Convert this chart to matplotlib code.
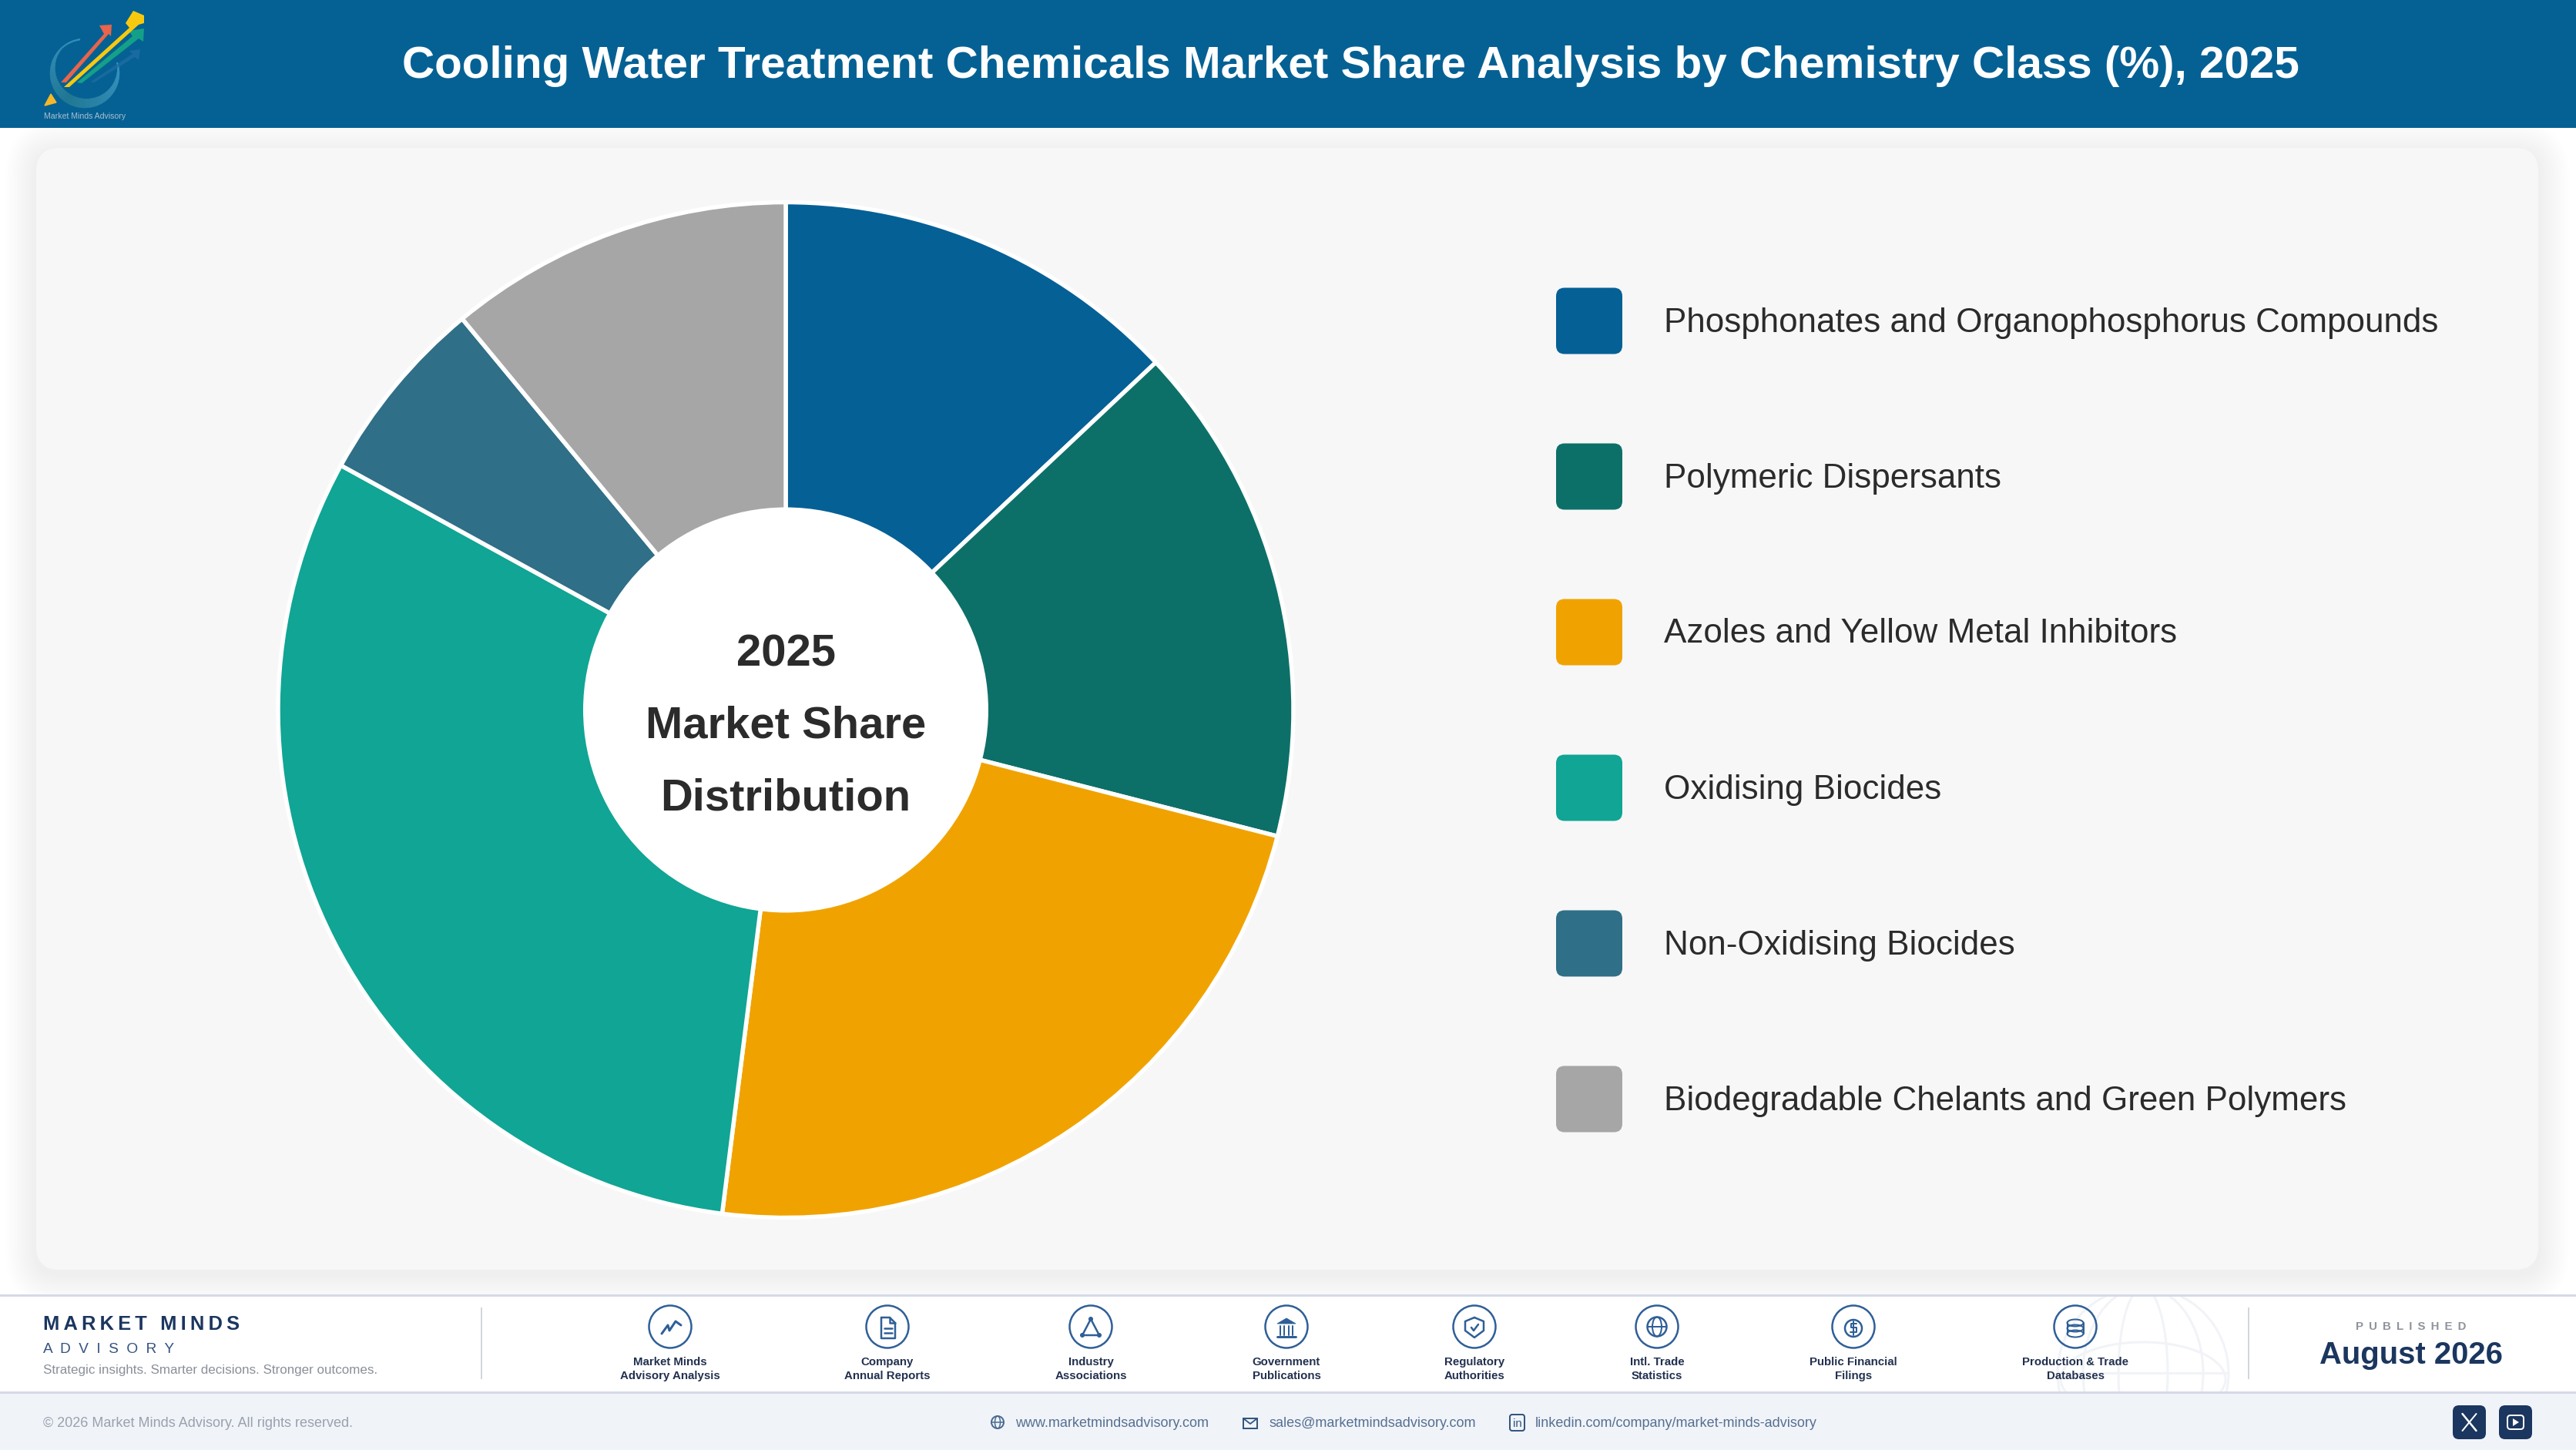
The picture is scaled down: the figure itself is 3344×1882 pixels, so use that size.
import numpy as np
import matplotlib
matplotlib.use('Agg')
import matplotlib.pyplot as plt
from matplotlib.patches import Rectangle, FancyBboxPatch, Circle, Ellipse, Polygon

plt.rcParams['font.family'] = ['Liberation Sans', 'DejaVu Sans']

W, H, DPI = 3344, 1882, 200

TITLE = 'Cooling Water Treatment Chemicals Market Share Analysis by Chemistry Class (%), 2025'
CATEGORIES = ['Phosphonates and Organophosphorus Compounds', 'Polymeric Dispersants',
              'Azoles and Yellow Metal Inhibitors', 'Oxidising Biocides',
              'Non-Oxidising Biocides', 'Biodegradable Chelants and Green Polymers']
SHARES = [13, 16, 23, 31, 6, 11]
COLORS = ['#056096', '#0d7068', '#f0a300', '#10a594', '#2f6f87', '#a6a6a6']
CENTER_LINES = ['2025', 'Market Share', 'Distribution']
SOURCES = ['Market Minds\nAdvisory Analysis', 'Company\nAnnual Reports', 'Industry\nAssociations',
           'Government\nPublications', 'Regulatory\nAuthorities', 'Intl. Trade\nStatistics',
           'Public Financial\nFilings', 'Production & Trade\nDatabases']
SOURCE_X = [870, 1152, 1416, 1670, 1914, 2151, 2406, 2694]

HEADER = '#056194'
NAVY = '#1b365f'
ICON = '#2f5f97'
RULE = '#d6d9e6'


def px(size):
    return size * 72 / DPI


fig = plt.figure(figsize=(W / DPI, H / DPI), dpi=DPI, facecolor='white')


def layer(z):
    a = fig.add_axes([0, 0, 1, 1], zorder=z)
    a.set_xlim(0, W)
    a.set_ylim(H, 0)
    a.axis('off')
    return a


bg = layer(0)
fg = layer(2)


def text(x, y, s, size, color, weight='normal', ha='left', **kw):
    return fg.text(x, y, s, fontsize=px(size), color=color, fontweight=weight,
                   ha=ha, va='baseline', **kw)


def rrect(a, x0, y0, x1, y1, r, **kw):
    p = FancyBboxPatch((x0 + r, y0 + r), x1 - x0 - 2 * r, y1 - y0 - 2 * r,
                       boxstyle='round,pad=%s,rounding_size=%s' % (r, r), **kw)
    a.add_patch(p)
    return p


# card with soft shadow
for i in range(16, 0, -1):
    e = i * 2.5
    rrect(bg, 47 - e, 192 - e + 6, 3295 + e, 1648 + e + 6, 30 + e, fc='black', ec='none', alpha=0.0055, zorder=1)
rrect(bg, 47, 192, 3295, 1648, 30, fc='#f7f7f7', ec='none', zorder=2)

# header, footer bands
bg.add_patch(Rectangle((0, 0), W, 166, fc=HEADER, ec='none', zorder=3))
bg.add_patch(Rectangle((0, 1681), W, 126, fc='white', ec='none', zorder=3))
bg.add_patch(Rectangle((0, 1807), W, 75, fc='#f0f4f9', ec='none', zorder=3))
bg.plot([0, W], [1681, 1681], color=RULE, lw=px(3), zorder=6)
bg.plot([0, W], [1807, 1807], color=RULE, lw=px(3), zorder=6)
for sx in [625, 2919]:
    bg.plot([sx, sx], [1698, 1789], color='#d3d6dc', lw=px(2), zorder=5)

# globe watermark in the footer
clip = Rectangle((0, 1681), W, 126, transform=bg.transData)
GLOBE = '#f1f3f7'
for art in [Circle((2782, 1782), 111, fc='none', ec=GLOBE, lw=px(3), zorder=4),
            Ellipse((2782, 1782), 156, 222, fc='none', ec=GLOBE, lw=px(3), zorder=4),
            Ellipse((2782, 1782), 64, 222, fc='none', ec=GLOBE, lw=px(3), zorder=4),
            Ellipse((2782, 1790), 214, 96, fc='none', ec=GLOBE, lw=px(3), zorder=4)]:
    bg.add_patch(art)
    art.set_clip_path(clip)
bg.plot([2672, 2892], [1782, 1782], color=GLOBE, lw=px(3), zorder=4)

# logo
th = np.radians(np.linspace(-18, 262, 70))
for t0, t1 in zip(th[:-1], th[1:]):
    f = (t0 - th[0]) / (th[-1] - th[0])
    thick = 1.5 + 10.5 * np.sin(np.pi * min(f * 1.15, 1)) ** 1.2
    r0, r1 = 45, 45 - thick
    # angle runs clockwise on screen from the right side round the bottom
    pts = [(110 + r0 * np.cos(t0), 95 + r0 * np.sin(t0)), (110 + r0 * np.cos(t1), 95 + r0 * np.sin(t1)),
           (110 + r1 * np.cos(t1), 95 + r1 * np.sin(t1)), (110 + r1 * np.cos(t0), 95 + r1 * np.sin(t0))]
    col = np.array([0.22, 0.58, 0.76]) * abs(2 * f - 1) + np.array([0.13, 0.47, 0.58]) * (1 - abs(2 * f - 1))
    bg.add_patch(Polygon(pts, fc=col, ec=col, lw=0.2, zorder=4))
bg.add_patch(Polygon([(118, 106), (172, 70), (168, 66), (182, 64), (180, 78), (175, 74), (122, 107)], fc='#1f6ea3', ec='none', alpha=0.75, zorder=4))
bg.add_patch(Polygon([(100, 107), (172, 47), (167, 40), (187, 37), (186, 54), (180, 50), (106, 108)], fc='#14a088', ec='none', zorder=5))
bg.add_patch(Polygon([(83, 113), (168, 36), (163, 30), (173, 14), (187, 20), (187, 30), (180, 32), (90, 113)], fc='#f7c90e', ec='none', zorder=6))
bg.add_patch(Polygon([(79, 107), (135, 44), (129, 33), (145, 32), (144, 47), (141, 44), (86, 107)], fc='#e8644a', ec='none', zorder=6))
bg.add_patch(Polygon([(66, 122), (58, 137), (73, 133)], fc='#f6b828', ec='#f6b828', lw=0.5, zorder=6))
fg.text(110, 154, 'Market Minds Advisory', fontsize=px(10.5), color='#a9c0cf', ha='center', va='baseline')

# donut
R_AX = 720
R = 659
pie_ax = fig.add_axes([(1020 - R_AX) / W, 1 - (921.5 + R_AX) / H, 2 * R_AX / W, 2 * R_AX / H], zorder=1)
pie_ax.patch.set_alpha(0)
pie_ax.pie(SHARES, colors=COLORS, startangle=90, counterclock=False, radius=R / R_AX,
           wedgeprops=dict(edgecolor='white', linewidth=px(5.5)))
pie_ax.set_xlim(-1, 1)
pie_ax.set_ylim(-1, 1)
pie_ax.add_patch(Circle((0, 0), 263 / R_AX, fc='white', ec='none', zorder=5))

for s, y in zip(CENTER_LINES, [864, 957, 1051]):
    text(1020, y, s, 58, '#2b2b2b', 'bold', ha='center')

# legend
for i, (c, col) in enumerate(zip(CATEGORIES, COLORS)):
    yc = 416.5 + i * 202
    rrect(bg, 2020, yc - 43, 2106, yc + 43, 11, fc=col, ec='none', zorder=4)
    text(2160, yc + 14, c, 44, '#2b2b2b')

# header + footer text
text(1753, 101, TITLE, 58.4, 'white', 'bold', ha='center')
text(56, 1726, 'M\u2009A\u2009R\u2009K\u2009E\u2009T\u2009 \u2009M\u2009I\u2009N\u2009D\u2009S', 25.5, NAVY, 'bold')
text(56, 1756, '  '.join('ADVISORY'), 19, '#34527f')
text(56, 1783, 'Strategic insights. Smarter decisions. Stronger outcomes.', 17, '#8a8f98')
text(3130, 1726, '\u2009 '.join('PUBLISHED'), 15, '#8f939b', 'bold', ha='center')
text(3130, 1770, 'August 2026', 40, NAVY, 'bold', ha='center')
text(56, 1852, '\u00a9 2026 Market Minds Advisory. All rights reserved.', 18, '#9aa1ad')
text(1318, 1852, 'www.marketmindsadvisory.com', 18, '#566f91')
text(1647, 1852, 'sales@marketmindsadvisory.com', 18, '#566f91')
text(1993, 1852, 'linkedin.com/company/market-minds-advisory', 18, '#566f91')


def stroke(xs, ys, x0=0, y0=1722, lw=2.5, color=ICON):
    fg.plot(np.array(xs) + x0, np.array(ys) + y0, color=color, lw=px(lw), solid_capstyle='round',
            solid_joinstyle='round')


def ring(x, y, r, lw=2.5, color=ICON, fc='none'):
    fg.add_patch(Circle((x, y), r, fc=fc, ec=color, lw=px(lw)))


def icon_chart(x):
    stroke([-11, -3, -1, 7, 14], [9, -2, 5, -7, -2], x, lw=3)


def icon_doc(x):
    stroke([-8, 3, 10, 10, -8, -8], [-12, -12, -5, 15, 15, -12], x)
    stroke([3, 3, 10], [-12, -5, -5], x)
    stroke([-4, 6], [2, 2], x)
    stroke([-4, 6], [8, 8], x)


def icon_net(x):
    stroke([0, -11, 11, 0], [-10, 11, 11, -10], x)
    for dx, dy in [(0, -10), (-11, 11), (11, 11)]:
        ring(x + dx, 1722 + dy, 2.5, fc=ICON, lw=1)


def icon_gov(x):
    fg.add_patch(Polygon([(x - 12, 1718), (x, 1711), (x + 12, 1718)], fc=ICON, ec=ICON, lw=0.3))
    for dx in [-8, -3, 3, 8]:
        stroke([dx, dx], [-1, 11], x, lw=2)
    stroke([-12, 12], [13, 13], x, lw=3)


def icon_shield(x):
    stroke([0, 12, 12, 0, -12, -12, 0], [-12, -7, 5, 14, 5, -7, -12], x)
    stroke([-4, -1, 5], [1, 5, -3], x)


def icon_globe(x):
    ring(x, 1722, 12.5)
    fg.add_patch(Ellipse((x, 1722), 12, 25, fc='none', ec=ICON, lw=px(2)))
    stroke([-12, 12], [0, 0], x, lw=2)


def icon_coin(x):
    ring(x, 1724, 11)
    stroke([4, -3, -3, 4, 4, -4], [-6, -6, -1, -1, 5, 5], x, 1724, lw=2)
    stroke([0, 0], [-9, 9], x, 1724, lw=2)


def icon_db(x):
    for dy in [-7, 0, 7]:
        fg.add_patch(Ellipse((x, 1724 + dy), 21, 9, fc='none', ec=ICON, lw=px(2)))
    stroke([-10.5, -10.5], [-7, 7], x, 1724, lw=2)
    stroke([10.5, 10.5], [-7, 7], x, 1724, lw=2)


ICONS = [icon_chart, icon_doc, icon_net, icon_gov, icon_shield, icon_globe, icon_coin, icon_db]
for label, x, draw in zip(SOURCES, SOURCE_X, ICONS):
    ring(x, 1722, 27.5)
    draw(x)
    a, b = label.split('\n')
    text(x, 1772, a, 15, '#22304f', 'bold', ha='center')
    text(x, 1790, b, 15, '#22304f', 'bold', ha='center')

# contact icons
ring(1295, 1846, 8, lw=2, color='#4a6a92')
fg.add_patch(Ellipse((1295, 1846), 7, 16, fc='none', ec='#4a6a92', lw=px(1.5)))
stroke([-8, 8], [0, 0], 1295, 1846, lw=1.5, color='#4a6a92')
fg.add_patch(Rectangle((1614, 1841), 18, 13, fc='none', ec='#33567f', lw=px(2)))
stroke([-9, 0, 9], [-5, 2, -5], 1623, 1846, lw=1.8, color='#33567f')
rrect(fg, 1960, 1836, 1979, 1857, 3, fc='none', ec='#33567f', lw=px(2))
fg.text(1969.5, 1852, 'in', fontsize=px(15), color='#33567f', ha='center', va='baseline')

# social buttons
rrect(fg, 3184, 1824, 3227, 1868, 8, fc=NAVY, ec='none')
rrect(fg, 3244, 1824, 3287, 1868, 8, fc=NAVY, ec='none')
stroke([-9, 9], [-11, 11], 3205.5, 1846, lw=2.5, color='white')
stroke([-9, 9], [11, -11], 3205.5, 1846, lw=2, color='white')
rrect(fg, 3255, 1837, 3276, 1855, 4, fc='none', ec='white', lw=px(2))
fg.add_patch(Polygon([(3262, 1841), (3262, 1851), (3270, 1846)], fc='white', ec='none'))

fig.savefig('out.png', dpi=DPI, facecolor='white')
